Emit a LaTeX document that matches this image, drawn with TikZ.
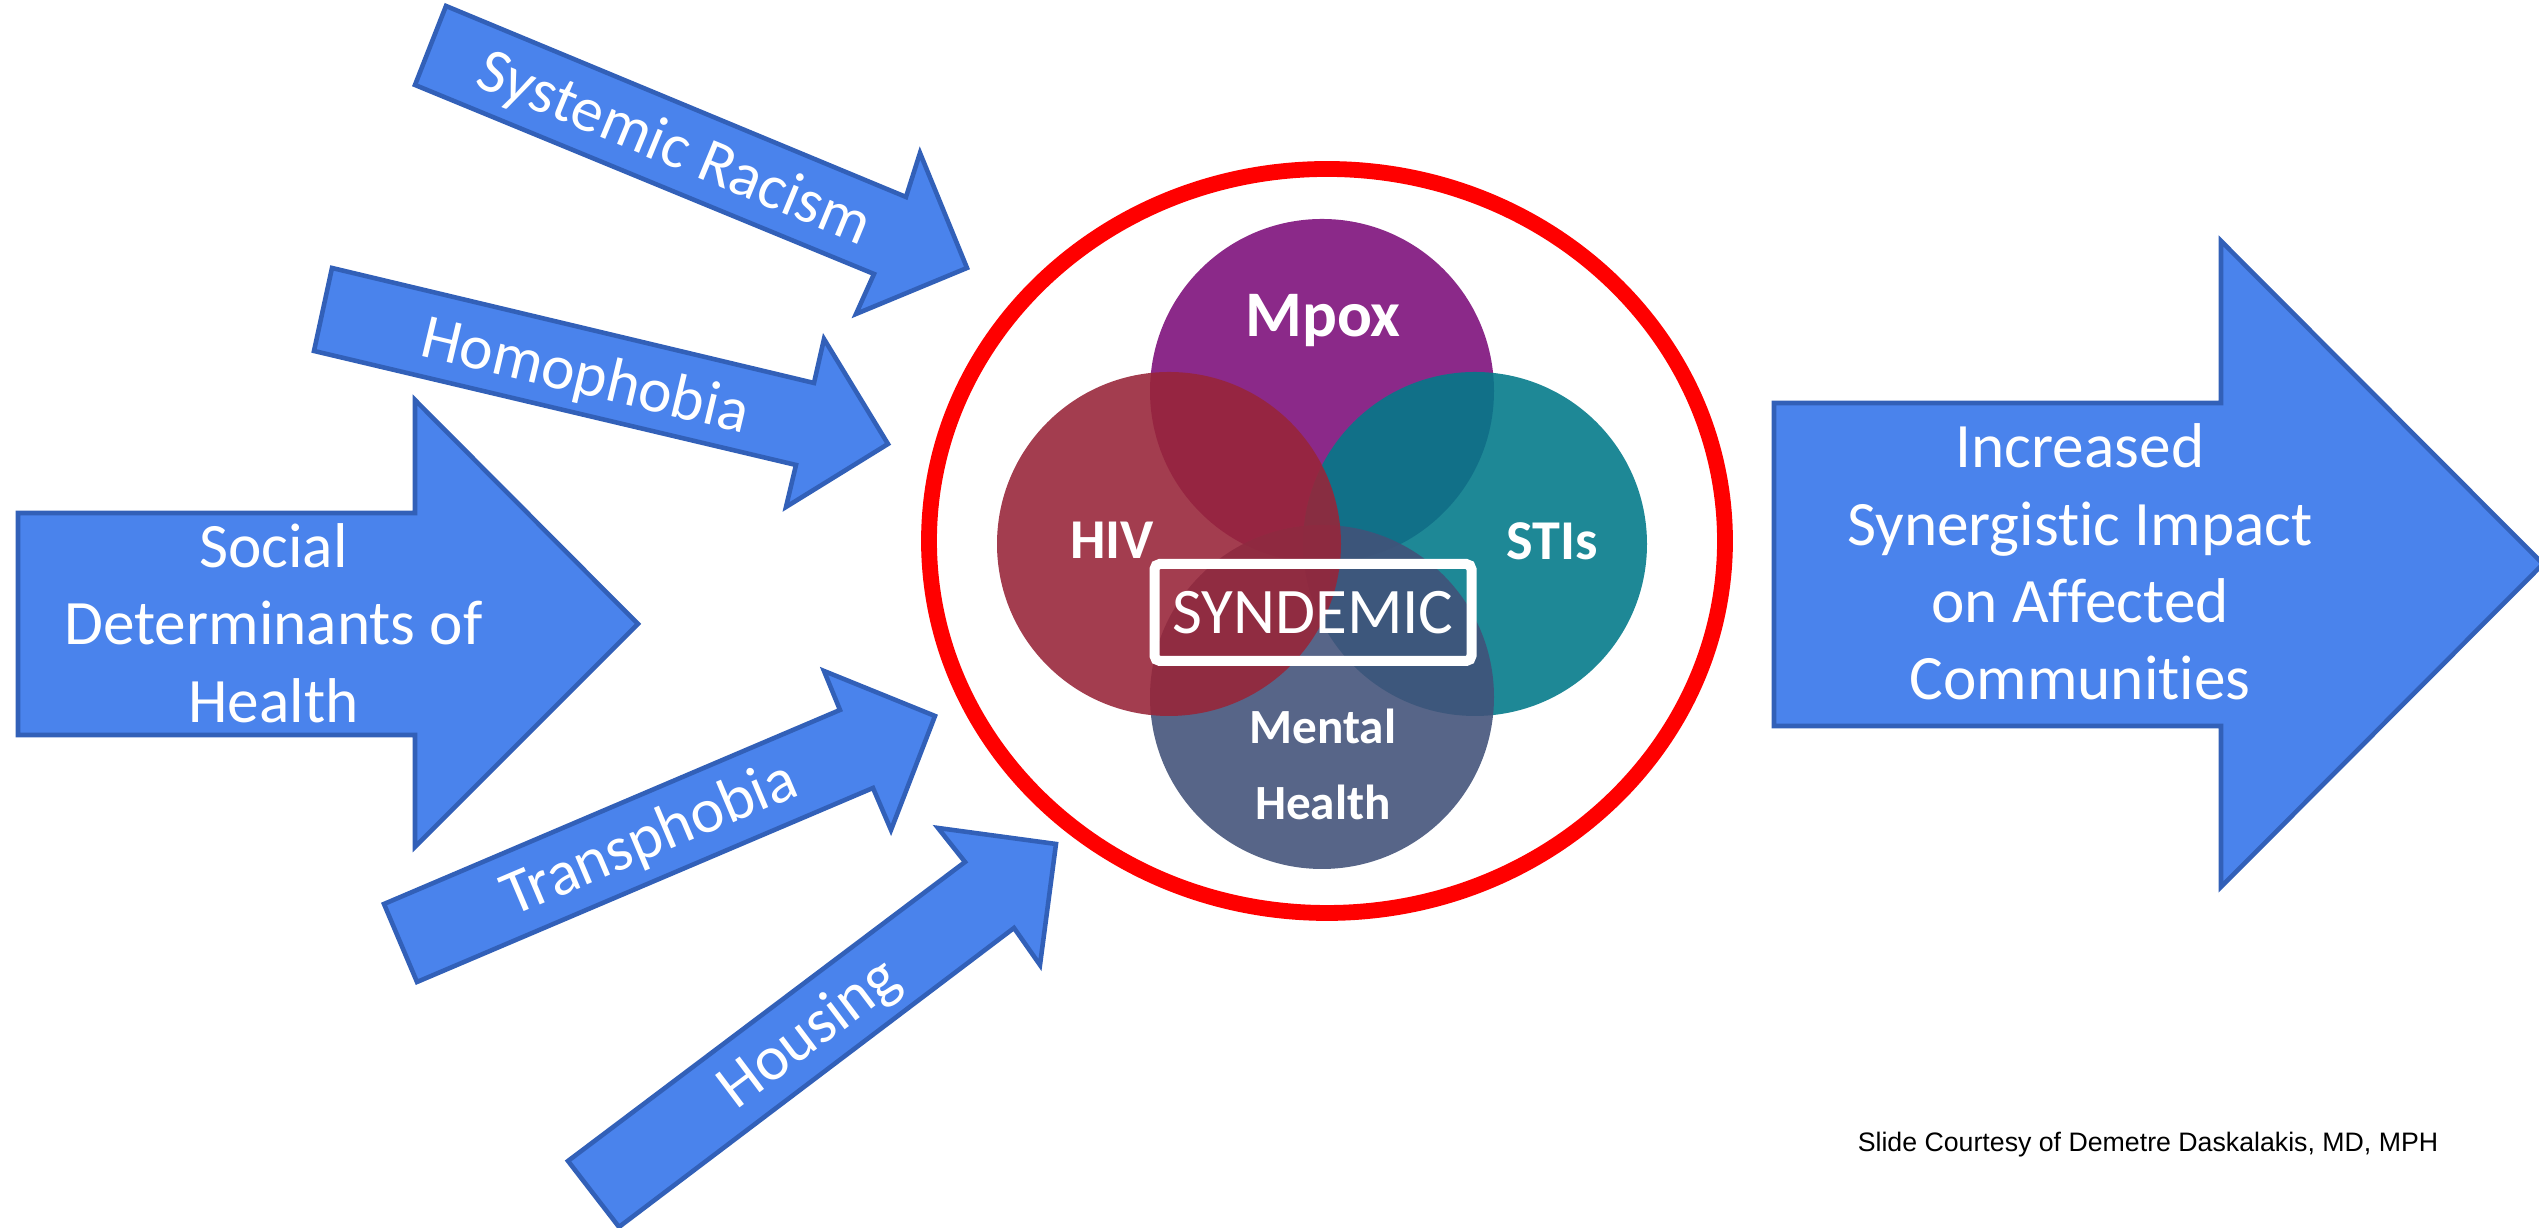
\documentclass[tikz,border=0pt]{standalone}
\usepackage{fontspec}
\setmainfont{Carlito}[Ligatures=NoCommon]
\newfontfamily\creditfont{Liberation Sans}
\definecolor{arrowfill}{RGB}{74,131,236}
\definecolor{arrowline}{RGB}{50,96,184}
\definecolor{mpoxc}{RGB}{125,15,122}
\definecolor{hivc}{RGB}{152,37,57}
\definecolor{stic}{RGB}{2,121,137}
\definecolor{mentalc}{RGB}{66,82,121}
\begin{document}
\begin{tikzpicture}[
    bluearrow/.style={fill=arrowfill,draw=arrowline,line width=1.3pt,line join=miter},
    arrowtext/.style={text=white,font=\fontsize{18}{22}\selectfont,align=center},
    blob/.style={fill opacity=0.89},
    bubbletext/.style={text=white,font=\bfseries\fontsize{#1}{#1}\selectfont,anchor=base}]
    \useasboundingbox (0,0) rectangle (25.39,12.28);
    %Systemic Racism
    \draw[bluearrow](4.46,12.22)--(9.06,10.31)--(9.20,10.75)--(9.67,9.60)--(8.56,9.14)--(8.74,9.54)--(4.15,11.43)--cycle;
    \node[arrowtext,rotate=-22.5](racism) at (6.74,10.78){Systemic Racism};
    %Homophobia
    \draw[bluearrow](3.32,9.60)--(8.14,8.45)--(8.24,8.89)--(8.88,7.84)--(7.86,7.21)--(7.96,7.63)--(3.14,8.77)--cycle;
    \node[arrowtext,rotate=-13.4](homophobia) at (5.85,8.50){Homophobia};
    %Social Determinants
    \draw[bluearrow](0.18,7.15)--(4.15,7.15)--(4.15,8.28)--(6.38,6.04)--(4.15,3.81)--(4.15,4.93)--(0.18,4.93)--cycle;
    \node[arrowtext](sdoh) at (2.735,6.05){Social\\Determinants of\\Health};
    %Transphobia
    \draw[bluearrow](3.84,3.24)--(8.40,5.18)--(8.24,5.57)--(9.35,5.12)--(8.91,3.98)--(8.73,4.40)--(4.17,2.46)--cycle;
    \node[arrowtext,rotate=23](transphobia) at (6.50,3.88){Transphobia};
    %Housing
    \draw[bluearrow](5.68,0.67)--(9.65,3.66)--(9.38,4.00)--(10.56,3.84)--(10.40,2.63)--(10.14,3.00)--(6.19,0.01)--cycle;
    \node[arrowtext,rotate=37](housing) at (8.10,1.93){Housing};
    %Impact
    \draw[bluearrow](17.74,8.25)--(22.21,8.25)--(22.21,9.87)--(25.43,6.64)--(22.21,3.41)--(22.21,5.02)--(17.74,5.02)--cycle;
    \node[arrowtext](impact) at (20.80,6.66){Increased\\Synergistic Impact\\on Affected\\Communities};
    %Ring
    \draw[red,line width=4.5pt](13.27,6.87) ellipse [x radius=3.98,y radius=3.72];
    %Circles
    \fill[mpoxc,blob](13.22,8.37)circle(1.72);
    \fill[stic,blob](14.75,6.84)circle(1.72);
    \fill[mentalc,blob](13.22,5.31)circle(1.72);
    \fill[hivc,blob](11.69,6.84)circle(1.72);
    \node[bubbletext=18.5](mpox) at (13.23,8.91){Mpox};
    \node[bubbletext=16](hiv) at (11.12,6.69){HIV};
    \node[bubbletext=16](stis) at (15.52,6.68){STIs};
    \node[bubbletext=14](mental) at (13.23,4.84){Mental};
    \node[bubbletext=14](health) at (13.23,4.08){Health};
    %Syndemic
    \node[draw=white,line width=2.85pt,rounded corners=1.5pt,text=white,font=\fontsize{18.5}{20}\selectfont,
        minimum width=3.17cm,minimum height=0.97cm,inner sep=0pt](syndemic) at (13.13,6.155){SYNDEMIC};
    %Credit
    \node[font=\creditfont\fontsize{7.6}{9}\selectfont,anchor=base](credit) at (21.48,0.76){Slide Courtesy of Demetre Daskalakis, MD, MPH};
\end{tikzpicture}
\end{document}
